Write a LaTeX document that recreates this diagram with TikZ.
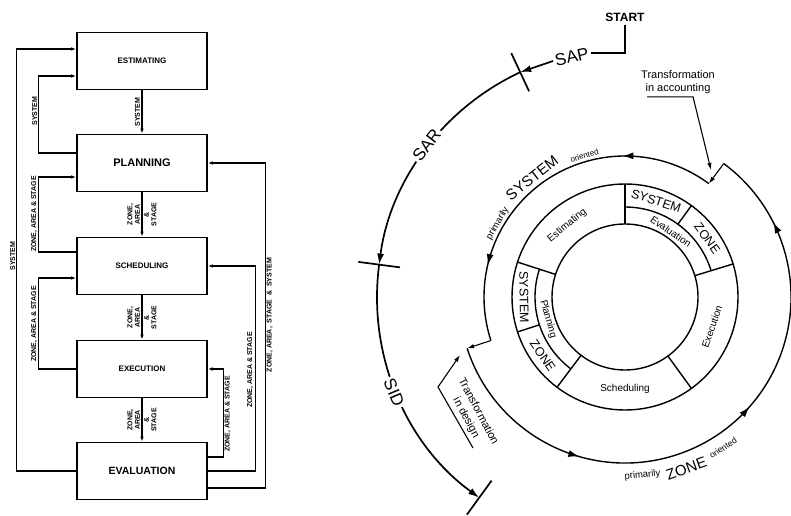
\documentclass[tikz,border=0pt]{standalone}
\usepackage{fontspec}
\setmainfont{Liberation Sans}
\usetikzlibrary{arrows.meta,decorations.markings}
\newcommand{\setsz}[2]{\fontsize{#1}{#2}\selectfont}

\begin{document}
\begin{tikzpicture}[x=1pt,y=1pt,
    box/.style={draw,line width=1.6pt,minimum width=130pt,minimum height=57pt,inner sep=0pt,font=\bfseries\setsz{8}{9}},
    flow/.style={-{Latex[length=5pt,width=3.5pt]},line width=1.1pt},
    side/.style={rotate=90,inner sep=1.5pt,font=\bfseries\setsz{7}{7.5}},
    ring/.style={line width=1.4pt},
    big/.style={line width=1.7pt},
    tipS/.style={-{Latex[length=7pt,width=4.5pt]},line width=1.1pt},
    bigtip/.style={-{Latex[length=11pt,width=7pt]}},
    mid arrow/.style={postaction={decorate,decoration={markings,
        mark=at position #1 with {\arrow{Latex[length=11pt,width=7pt]}}}}},
    word/.style={inner sep=0pt,font=\setsz{10}{11}},
    Word/.style={inner sep=0pt,font=\setsz{12.5}{13}},
    note/.style={inner sep=0pt,font=\setsz{11}{13}},
    stage/.style={inner sep=2pt,fill=white,font=\setsz{17}{18}}]
  \useasboundingbox (0,0) rectangle (791,515);

  % flow chart on the left
  \node [box] (est) at (142,454) {ESTIMATING};
  \node [box,font=\bfseries\setsz{11}{12}] (plan) at (142,352) {PLANNING};
  \node [box] (sched) at (142,249) {SCHEDULING};
  \node [box] (exec) at (142,146) {EXECUTION};
  \node [box,font=\bfseries\setsz{10.5}{12}] (eval) at (142,44) {EVALUATION};

  \draw [flow] (est) -- node [side,anchor=south] (dSys) {SYSTEM} (plan);
  \draw [flow] (plan) -- node [side,anchor=south,align=center] (dZa1) {ZONE,\\AREA}
      node [side,anchor=north,align=center] (dSt1) {\&\\STAGE} (sched);
  \draw [flow] (sched) -- node [side,anchor=south,align=center] (dZa2) {ZONE,\\AREA}
      node [side,anchor=north,align=center] (dSt2) {\&\\STAGE} (exec);
  \draw [flow] (exec) -- node [side,anchor=south,align=center] (dZa3) {ZONE,\\AREA}
      node [side,anchor=north,align=center] (dSt3) {\&\\STAGE} (eval);

  % feedback, left side
  \draw [flow] (eval.west) -- ++(-60,0) |- ([yshift=12pt]est.west);
  \node [side,anchor=south] (lSys1) at (17,259) {SYSTEM};
  \draw [flow] ([yshift=10pt]plan.west) -- ++(-38,0) |- ([yshift=-15pt]est.west);
  \node [side,anchor=south] (lSys2) at (39,404) {SYSTEM};
  \draw [flow] ([yshift=14pt]sched.west) -- ++(-38,0) |- ([yshift=-14pt]plan.west);
  \node [side,anchor=south] (lZas1) at (39,301) {ZONE, AREA \& STAGE};
  \draw [flow] (exec.west) -- ++(-38,0) |- ([yshift=-12pt]sched.west);
  \node [side,anchor=south] (lZas2) at (39,191) {ZONE, AREA \& STAGE};

  % feedback, right side
  \draw [flow] ([yshift=14pt]eval.east) -- ++(16,0) |- (exec.east);
  \node [side,anchor=north] (rZas1) at (223,101) {ZONE, AREA \& STAGE};
  \draw [flow] (eval.east) -- ++(48,0) |- (sched.east);
  \node [side,anchor=south] (rZas2) at (255,145) {ZONE, AREA \& STAGE};
  \draw [flow] ([yshift=-17pt]eval.east) -- ++(58,0) |- (plan.east);
  \node [side,anchor=north] (rAll) at (265,200) {ZONE, AREA,\ \ STAGE\ \ \&\ \ SYSTEM};

  % cycle on the right
  \coordinate (C) at (625,218);
  \draw [ring] (C) circle [radius=73pt];
  \draw [ring] (C) circle [radius=113pt];
  \draw [ring] ([shift={(17:90pt)}]C) arc [start angle=17,end angle=90,radius=90pt];
  \draw [ring] ([shift={(162:90pt)}]C) arc [start angle=162,end angle=233,radius=90pt];
  \foreach \a in {17,90,162,233,306}
    \draw [ring] ([shift={(\a:73pt)}]C) -- ([shift={(\a:113pt)}]C);
  \foreach \a in {54,198}
    \draw [ring] ([shift={(\a:90pt)}]C) -- ([shift={(\a:113pt)}]C);

  \node [word,rotate=39] (tEst) at ([shift={(129:92pt)}]C) {Estimating};
  \node [Word,rotate=-18] (tSys1) at ([shift={(72:101pt)}]C) {SYSTEM};
  \node [word,rotate=-34] (tEva) at ([shift={(55:80pt)}]C) {Evaluation};
  \node [Word,rotate=-54] (tZon1) at ([shift={(35.5:101pt)}]C) {ZONE};
  \node [word,rotate=71] (tExe) at ([shift={(-19:92pt)}]C) {Execution};
  \node [word] (tSch) at ([shift={(-90:92pt)}]C) {Scheduling};
  \node [word,rotate=-74] (tPla) at ([shift={(196:80pt)}]C) {Planning};
  \node [Word,rotate=-89] (tSys2) at ([shift={(180:101pt)}]C) {SYSTEM};
  \node [Word,rotate=-55] (tZon2) at ([shift={(215.5:101pt)}]C) {ZONE};

  % system and zone loops
  \coordinate (sysA) at ([shift={(53.5:141pt)}]C);
  \coordinate (sysB) at ([shift={(198:141pt)}]C);
  \coordinate (zonA) at ([shift={(198:166pt)}]C);
  \coordinate (zonB) at ([shift={(53.5:166pt)}]C);
  \draw [ring,mid arrow=0.26,mid arrow=0.785] (sysA) arc [start angle=53.5,end angle=198,radius=141pt];
  \draw [ring,tipS] (sysB) -- (zonA);
  \draw [ring,mid arrow=0.26,mid arrow=0.56,mid arrow=0.876] (zonA) arc [start angle=198,end angle=413.5,radius=166pt];
  \draw [ring,tipS] (zonB) -- (sysA);

  \node [inner sep=0pt,font=\setsz{9.5}{10},rotate=60] (pS1) at ([shift={(150:147pt)}]C) {primarily};
  \node [inner sep=0pt,font=\setsz{15}{16},rotate=38] (pS2) at ([shift={(128:151pt)}]C) {SYSTEM};
  \node [inner sep=0pt,font=\setsz{8}{9},rotate=16] (pS3) at ([shift={(106:147pt)}]C) {oriented};
  \node [inner sep=0pt,font=\setsz{9.5}{10},rotate=5.6] (pZ1) at ([shift={(275.6:179pt)}]C) {primarily};
  \node [inner sep=0pt,font=\setsz{15}{16},rotate=19.7] (pZ2) at ([shift={(289.7:182pt)}]C) {ZONE};
  \node [inner sep=0pt,font=\setsz{8.5}{9},rotate=33] (pZ3) at ([shift={(303:180pt)}]C) {oriented};

  % transformations
  \node [note,align=center] (acc) at (678,433) {Transformation\\in accounting};
  \coordinate (accE) at (711,345);
  \draw [tipS] ([shift={(6pt,-3pt)}]acc.south west) -- ++(46,0) -- (accE);
  \node [note,rotate=-62] (des1) at (479,104) {Transformation};
  \node [note,rotate=-62] (des2) at (466,97) {in design};
  \coordinate (desL) at (473,67);
  \coordinate (desK) at (438,128);
  \coordinate (desE) at (460,160);
  \draw [tipS] (desL) -- (desK) -- (desE);

  % phases SAP, SAR, SID
  \foreach \a/\n in {115/t1,172.5/t2,234/t3} {
    \coordinate (\n) at ([shift={(\a:248pt)}]C);
    \draw [big] ([shift={(\a:227pt)}]C) -- ([shift={(\a:269pt)}]C);
  }
  \draw [big,bigtip] (t1) arc [start angle=115,end angle=172.5,radius=248pt];
  \draw [big,bigtip] (t2) arc [start angle=172.5,end angle=234,radius=248pt];
  \node [font=\bfseries\setsz{12}{13}] (start) at (625,498) {START};
  \node [stage,rotate=12.5] (sap) at ([shift={(102.5:246pt)}]C) {SAP};
  \node [stage,rotate=52] (sar) at ([shift={(142.5:250pt)}]C) {SAR};
  \node [stage,rotate=-67] (sid) at ([shift={(202.5:250pt)}]C) {SID};
  \draw [big] (start.south) |- (sap.east);
  \draw [big,bigtip] (sap.west) -- (t1);
\end{tikzpicture}
\end{document}
